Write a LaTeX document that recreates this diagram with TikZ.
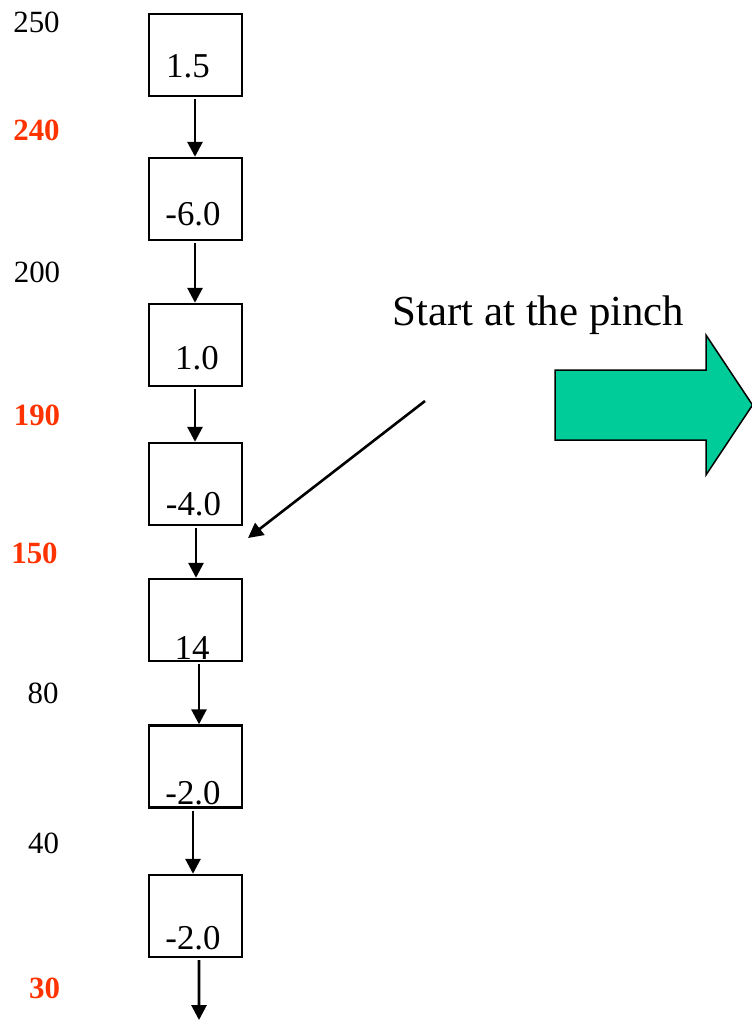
\documentclass[tikz,border=0pt]{standalone}
\usepackage{fontspec}
\setmainfont{Liberation Serif}
\usetikzlibrary{arrows.meta}
\definecolor{pinchred}{RGB}{255,51,0}
\definecolor{bigarrowgreen}{RGB}{0,204,153}
\tikzset{
  stagebox/.style={draw=black, line width=2.4bp, minimum width=93bp, minimum height=82bp, inner sep=0pt},
  boxtext/.style={anchor=base, inner sep=0pt, font=\fontsize{35}{40}\selectfont},
  templabel/.style={anchor=base, inner sep=0pt, font=\fontsize{31}{36}\selectfont},
  pinchlabel/.style={templabel, text=pinchred, font=\fontsize{31}{36}\selectfont\bfseries},
  flowarrow/.style={draw=black, line width=2.8bp, -{Triangle[length=15bp,width=15bp]}, shorten <=2bp},
}
\begin{document}
\begin{tikzpicture}[x=1bp,y=-1bp]
\useasboundingbox (0,0) rectangle (752,1022);

% boxes
\node[stagebox] (b1) at (195.5,55) {};
\node[stagebox] (b2) at (195.5,199) {};
\node[stagebox] (b3) at (195.5,345) {};
\node[stagebox] (b4) at (195.5,484) {};
\node[stagebox] (b5) at (195.5,620) {};
\node[stagebox] (b6) at (195.5,766.5) {};
\node[stagebox] (b7) at (195.5,916) {};

% box texts
\node[boxtext] (t1) at (188,77) {1.5};
\node[boxtext] (t2) at (193,225) {-6.0};
\node[boxtext] (t3) at (197,369) {1.0};
\node[boxtext] (t4) at (193.5,515) {-4.0};
\node[boxtext] (t5) at (192,659) {14};
\node[boxtext] (t6) at (193,804) {-2.0};
\node[boxtext] (t7) at (193,949) {-2.0};

% temperature labels
\node[templabel]  (l250) at (36.5,32) {250};
\node[pinchlabel] (l240) at (36.5,140) {240};
\node[templabel]  (l200) at (37,282) {200};
\node[pinchlabel] (l190) at (37,425) {190};
\node[pinchlabel] (l150) at (34.5,563) {150};
\node[templabel]  (l80)  at (43,703) {80};
\node[templabel]  (l40)  at (43.5,853) {40};
\node[pinchlabel] (l30)  at (44.5,998) {30};

% vertical arrows
\draw[flowarrow] ([xshift=-0.5bp]b1.south) -- ([xshift=-0.5bp]b2.north);
\draw[flowarrow] ([xshift=-0.5bp]b2.south) -- ([xshift=-0.5bp]b3.north);
\draw[flowarrow] ([xshift=-0.5bp]b3.south) -- ([xshift=-0.5bp]b4.north);
\draw[flowarrow] ([xshift=0.5bp]b4.south) -- ([xshift=0.5bp]b5.north);
\draw[flowarrow] ([xshift=3.5bp]b5.south) -- ([xshift=3.5bp]b6.north);
\draw[flowarrow] ([xshift=-2.5bp]b6.south) -- ([xshift=-2.5bp]b7.north);
\coordinate (outlet) at (199,1020);
\draw[flowarrow] ([xshift=3.5bp]b7.south) -- (outlet);

% annotation
\node[anchor=base, inner sep=0pt, font=\fontsize{43}{48}\selectfont] (pinchtext) at (538.5,325) {Start at the pinch};
\coordinate (diagstart) at (425,401);
\coordinate (diagend) at (248,538);
\draw[draw=black, line width=2.6bp, -{Triangle[length=15bp,width=15bp]}] (diagstart) -- (diagend);

% big green arrow
\draw[fill=bigarrowgreen, draw=black, line width=1.5bp, line join=miter]
  (555,370) -- (706,370) -- (706,335) -- (752.5,405) -- (706,475) -- (706,440) -- (555,440) -- cycle;
\end{tikzpicture}
\end{document}
